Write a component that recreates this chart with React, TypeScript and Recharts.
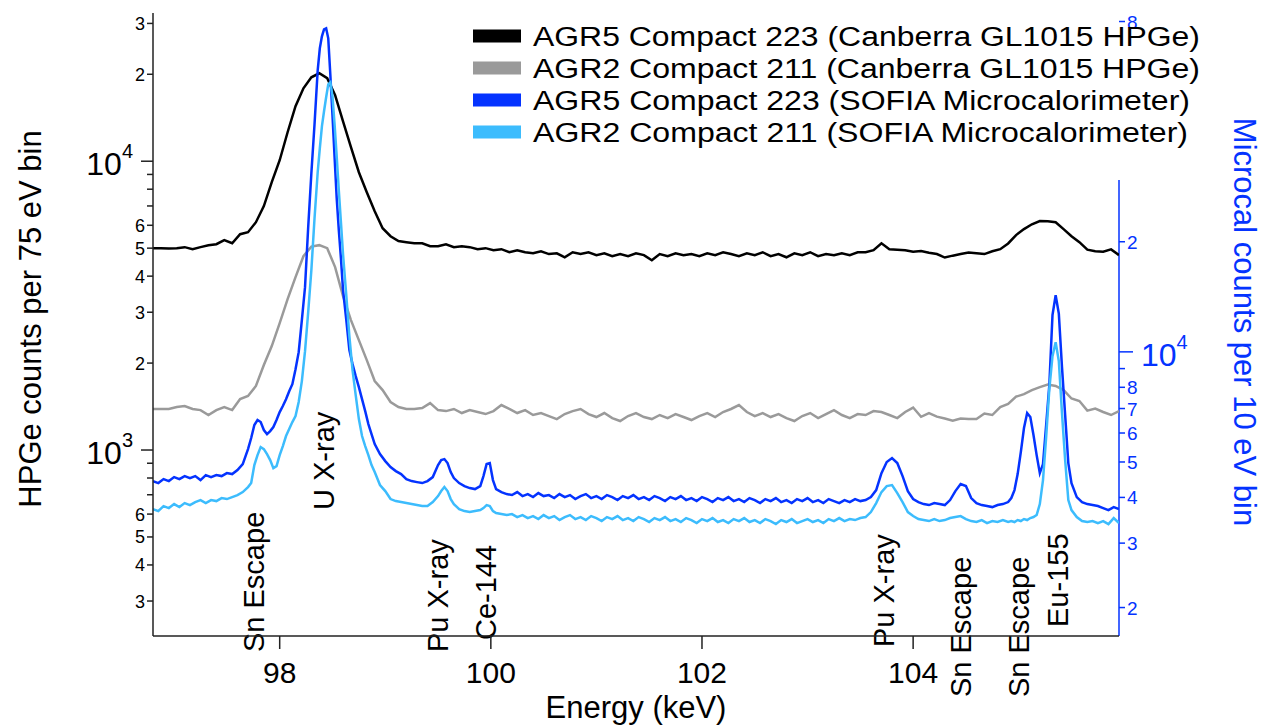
import React from "react";
import { LineChart, Line, XAxis, YAxis, ReferenceLine } from "recharts";

const FONT = '"Liberation Sans", Arial, Helvetica, sans-serif';
const BLACK = "#000000";
const GRAY = "#9a9a9a";
const BLUE = "#0433ff";
const SKY = "#3cbcfd";

// HPGe spectra, 75 eV bins (keV, counts)
const hpgeEnergy = [
  96.8, 96.875, 96.95, 97.025, 97.1, 97.175, 97.25, 97.325, 97.4, 97.475,
  97.55, 97.625, 97.7, 97.775, 97.85, 97.925, 98.0, 98.075, 98.15, 98.225,
  98.3, 98.375, 98.45, 98.525, 98.6, 98.675, 98.75, 98.825, 98.9, 98.975,
  99.05, 99.125, 99.2, 99.275, 99.35, 99.425, 99.5, 99.575, 99.65, 99.725,
  99.8, 99.875, 99.95, 100.025, 100.1, 100.175, 100.25, 100.325, 100.4, 100.475,
  100.55, 100.625, 100.7, 100.775, 100.85, 100.925, 101.0, 101.075, 101.15, 101.225,
  101.3, 101.375, 101.45, 101.525, 101.6, 101.675, 101.75, 101.825, 101.9, 101.975,
  102.05, 102.125, 102.2, 102.275, 102.35, 102.425, 102.5, 102.575, 102.65, 102.725,
  102.8, 102.875, 102.95, 103.025, 103.1, 103.175, 103.25, 103.325, 103.4, 103.475,
  103.55, 103.625, 103.7, 103.775, 103.85, 103.925, 104.0, 104.075, 104.15, 104.225,
  104.3, 104.375, 104.45, 104.525, 104.6, 104.675, 104.75, 104.825, 104.9, 104.975,
  105.05, 105.125, 105.2, 105.275, 105.35, 105.425, 105.5, 105.575, 105.65, 105.725,
  105.8, 105.875, 105.95,
];

const hpgeAgr5 = [
  5000, 5000, 4990, 5000, 5040, 4960, 5040, 5120, 5160, 5330,
  5200, 5590, 5680, 6150, 6990, 8460, 10080, 12600, 15500, 17890,
  19530, 20160, 19380, 16920, 13750, 11180, 9160, 7810, 6710, 5860,
  5500, 5290, 5245, 5200, 5200, 5080, 5080, 5160, 5040, 5080,
  5040, 4960, 5000, 4920, 4960, 4840, 4920, 4840, 4800, 4880,
  4770, 4800, 4650, 4840, 4770, 4840, 4730, 4800, 4690, 4770,
  4690, 4800, 4730, 4540, 4770, 4690, 4800, 4730, 4770, 4690,
  4800, 4730, 4840, 4770, 4690, 4800, 4730, 4840, 4690, 4770,
  4650, 4800, 4730, 4840, 4690, 4770, 4730, 4800, 4730, 4840,
  4840, 4920, 5200, 4960, 4940, 4920, 4860, 4890, 4820, 4770,
  4640, 4710, 4770, 4830, 4800, 4770, 4880, 4960, 5190, 5550,
  5820, 6050, 6210, 6200, 6150, 5820, 5500, 5245, 4940, 4880,
  4860, 4950, 4730,
];

const hpgeAgr2 = [
  1387, 1387, 1387, 1409, 1420, 1387, 1375, 1322, 1375, 1409,
  1375, 1502, 1538, 1666, 1969, 2290, 2750, 3331, 3968, 4690,
  5061, 5121, 5000, 4298, 3411, 2817, 2402, 2048, 1733, 1613,
  1466, 1409, 1387, 1387, 1398, 1454, 1375, 1364, 1387, 1343,
  1375, 1354, 1332, 1364, 1431, 1387, 1343, 1375, 1322, 1343,
  1311, 1280, 1332, 1364, 1387, 1332, 1301, 1343, 1290, 1260,
  1311, 1343, 1301, 1280, 1322, 1290, 1332, 1301, 1270, 1311,
  1343, 1301, 1354, 1387, 1431, 1354, 1311, 1343, 1301, 1332,
  1290, 1260, 1311, 1343, 1290, 1332, 1375, 1322, 1290, 1332,
  1322, 1364, 1354, 1322, 1290, 1354, 1403, 1303, 1343, 1305,
  1285, 1263, 1285, 1280, 1280, 1337, 1322, 1409, 1443, 1530,
  1562, 1613, 1652, 1685, 1666, 1613, 1508, 1478, 1369, 1392,
  1354, 1322, 1364,
];

// SOFIA microcalorimeter spectra (keV, counts per 10 eV bin), sampled
const microEnergy = [
  96.8, 96.85, 96.9, 96.95, 97.0, 97.05, 97.1, 97.15, 97.2, 97.25,
  97.3, 97.35, 97.4, 97.45, 97.5, 97.55, 97.6, 97.65, 97.7,
  97.73, 97.76, 97.79, 97.82, 97.85, 97.88, 97.91, 97.94, 97.97, 98.0,
  98.03, 98.06, 98.09, 98.12, 98.15, 98.18, 98.21, 98.24, 98.27, 98.3,
  98.33, 98.36,
  98.38, 98.4, 98.42, 98.44, 98.46, 98.48, 98.5, 98.52, 98.54, 98.56, 98.58, 98.6,
  98.63, 98.66, 98.69, 98.72, 98.75, 98.78, 98.81, 98.84, 98.87,
  98.9, 98.95, 99.0, 99.05, 99.1, 99.15, 99.2, 99.25, 99.3, 99.35, 99.4, 99.45, 99.5,
  99.53, 99.56, 99.59, 99.62, 99.65,
  99.7, 99.75, 99.8, 99.85, 99.9,
  99.93, 99.96, 99.99, 100.02, 100.05,
  100.1, 100.15, 100.2, 100.25, 100.3, 100.35, 100.4, 100.45, 100.5, 100.55,
  100.6, 100.65, 100.7, 100.75, 100.8, 100.85, 100.9, 100.95, 101.0, 101.05,
  101.1, 101.15, 101.2, 101.25, 101.3, 101.35, 101.4, 101.45, 101.5, 101.55,
  101.6, 101.65, 101.7, 101.75, 101.8, 101.85, 101.9, 101.95, 102.0, 102.05,
  102.1, 102.15, 102.2, 102.25, 102.3, 102.35, 102.4, 102.45, 102.5, 102.55,
  102.6, 102.65, 102.7, 102.75, 102.8, 102.85, 102.9, 102.95, 103.0, 103.05,
  103.1, 103.15, 103.2, 103.25, 103.3, 103.35, 103.4, 103.45, 103.5, 103.55,
  103.6, 103.65, 103.7, 103.75, 103.8, 103.85, 103.9, 103.95, 104.0, 104.05,
  104.1, 104.15, 104.2, 104.25, 104.3, 104.35, 104.4, 104.45, 104.5, 104.55,
  104.6, 104.65, 104.7, 104.75, 104.8, 104.85, 104.9,
  104.93, 104.96, 104.99, 105.02, 105.05, 105.08, 105.11, 105.14, 105.17, 105.2,
  105.23, 105.26, 105.29, 105.32, 105.35, 105.38, 105.41, 105.44, 105.47,
  105.5, 105.55, 105.6, 105.65, 105.7, 105.75, 105.8, 105.85, 105.9, 105.95,
];

const microAgr5 = [
  4433, 4378, 4489, 4433, 4546, 4489, 4575, 4518, 4575, 4461,
  4604, 4546, 4604, 4575, 4662, 4633, 4751, 4934, 5423,
  5813, 6308, 6510, 6428, 6113, 5961, 6074, 6229, 6510, 6846,
  7109, 7424, 7808, 8160, 8969, 9981, 12210, 15030, 21910, 30780,
  41900, 58850,
  67560, 72870, 76140, 76620, 71960, 57020, 44330, 34040, 26300, 21500, 18030, 14750,
  12280, 10110, 9256, 8583, 8009, 7424, 6889, 6348, 5961,
  5597, 5255, 5028, 4842, 4721, 4633, 4489, 4433, 4405, 4378, 4433, 4546, 4903,
  5060, 5092, 4965, 4692, 4518,
  4378, 4296, 4242, 4216, 4296,
  4575, 4934, 4965, 4461, 4216,
  4137, 4085, 4060, 4137, 4034, 4085, 4009, 4111, 4034, 4060,
  3984, 4085, 4009, 4060, 3959, 4034, 4085, 3984, 4034, 3959,
  4060, 4009, 3934, 4034, 3984, 4060, 3959, 4009, 3934, 4034,
  3984, 3909, 4009, 3959, 4034, 3934, 3984, 3909, 4009, 3959,
  3885, 3984, 3934, 4009, 3909, 3959, 3885, 3984, 3934, 3860,
  3959, 3909, 3984, 3885, 3934, 3860, 3959, 3909, 3984, 3885,
  3934, 3860, 3959, 3909, 3860, 3934, 3885, 3959, 3909, 3934,
  4009, 4189, 4662, 4997, 5124, 4965, 4575, 4163, 3959, 3885,
  3836, 3812, 3860, 3836, 3812, 3934, 4163, 4350, 4296, 3984,
  3860, 3812, 3788, 3764, 3812, 3836, 3885,
  3984, 4189, 4633, 5322, 6190, 6803, 6634, 5923, 5222, 4662,
  4934, 6308, 8110, 12600, 14280, 12720, 9080, 6718, 4965,
  4378, 4009, 3885, 3836, 3812, 3788, 3741, 3694, 3764, 3717,
];

const microAgr2 = [
  3717, 3671, 3788, 3741, 3836, 3764, 3860, 3812, 3885, 3934,
  3860, 3934, 3909, 3984, 3959, 4009, 4060, 4137, 4269,
  4378, 4903, 5222, 5492, 5423, 5255, 5060, 4811, 4872, 5222,
  5527, 5886, 6151, 6428, 6676, 7291, 8318, 10040, 12840, 16720,
  23190, 30970,
  36020, 41370, 45460, 49650, 53880, 54560, 49960, 41900, 34250, 27660, 22620, 18490,
  14380, 11040, 8913, 7614, 6551, 5886, 5527, 5222, 4903,
  4692, 4323, 4163, 3959, 3909, 3885, 3860, 3836, 3812, 3788, 3788, 3885, 4034,
  4163, 4269, 4163, 3959, 3836,
  3717, 3671, 3648, 3671, 3694,
  3741, 3812, 3788, 3671, 3625,
  3602, 3580, 3602, 3535, 3580, 3513, 3557, 3491, 3580, 3513,
  3557, 3469, 3535, 3580, 3491, 3535, 3469, 3557, 3513, 3447,
  3535, 3491, 3557, 3469, 3513, 3447, 3535, 3491, 3426, 3513,
  3469, 3535, 3447, 3491, 3426, 3513, 3469, 3404, 3491, 3447,
  3513, 3426, 3469, 3404, 3491, 3447, 3513, 3426, 3469, 3404,
  3491, 3447, 3383, 3469, 3426, 3491, 3404, 3447, 3491, 3426,
  3469, 3404, 3491, 3447, 3513, 3447, 3491, 3469, 3513, 3535,
  3648, 3860, 4137, 4296, 4323, 4111, 3885, 3648, 3557, 3491,
  3469, 3447, 3491, 3447, 3469, 3513, 3535, 3557, 3491, 3447,
  3426, 3469, 3404, 3447, 3426, 3469, 3426,
  3447, 3426, 3469, 3447, 3491, 3469, 3513, 3535, 3580, 3836,
  4461, 5849, 7908, 9733, 10630, 9431, 6803, 5060, 3934,
  3694, 3535, 3447, 3426, 3447, 3404, 3447, 3383, 3513, 3404,
];

const energyTicks = [98, 100, 102, 104];
const hpgeTicks = [300, 400, 500, 600, 700, 800, 900, 1000, 2000, 3000, 4000, 5000, 6000, 7000, 8000, 9000, 10000, 20000, 30000];
const microTicks = [2000, 3000, 4000, 5000, 6000, 7000, 8000, 9000, 10000, 20000, 80000];

const peakEnergy = [97.758, 98.416, 99.504, 99.95, 103.726, 104.456, 105.007, 105.374];
const peakName = ["Sn Escape", "U X-ray", "Pu X-ray", "Ce-144", "Pu X-ray", "Sn Escape", "Sn Escape", "Eu-155"];

const legendNames = [
  "AGR5 Compact 223 (Canberra GL1015 HPGe)",
  "AGR2 Compact 211 (Canberra GL1015 HPGe)",
  "AGR5 Compact 223 (SOFIA Microcalorimeter)",
  "AGR2 Compact 211 (SOFIA Microcalorimeter)",
];
const legendColors = [BLACK, GRAY, BLUE, SKY];
// the legend lettering in the original is wide; stretch to its measured widths
const legendWidths = [667, 667, 657, 655];

// layout: where the bottom of each rotated peak label sits (px)
const peakLabelBottom = [652, 510, 652, 640, 647, 697, 697, 627];

const hpgeData = hpgeEnergy.map((e, i) => ({ energy: e, agr5: hpgeAgr5[i], agr2: hpgeAgr2[i] }));
const microData = microEnergy.map((e, i) => ({ energy: e, agr5: microAgr5[i], agr2: microAgr2[i] }));

function splitTick(v: number) {
  const p = Math.floor(Math.log10(v) + 1e-9);
  const lead = Math.round(v / Math.pow(10, p));
  return { p, lead };
}

function EnergyTick(props: any) {
  const { x, y, payload } = props;
  return (
    <g>
      <line x1={x} x2={x} y1={y} y2={y + 13} stroke="#222" strokeWidth={1.5} />
      <text x={x} y={y + 47} textAnchor="middle" fontSize={30} fontFamily={FONT} fill="#000">
        {payload.value}
      </text>
    </g>
  );
}

function HpgeTick(props: any) {
  const { x, y, payload } = props;
  const { p, lead } = splitTick(payload.value);
  if (lead === 1) {
    return (
      <g>
        <line x1={x - 12} x2={x} y1={y} y2={y} stroke="#222" strokeWidth={1.5} />
        <text x={x - 20} y={y + 14} textAnchor="end" fontSize={32} fontFamily={FONT} fill="#000">
          10<tspan dy={-17} fontSize={20}>{p}</tspan>
        </text>
      </g>
    );
  }
  return (
    <g>
      <line x1={x - 6} x2={x} y1={y} y2={y} stroke="#222" strokeWidth={1.5} />
      {lead < 7 && (
        <text x={x - 8} y={y + 6.5} textAnchor="end" fontSize={18} fontFamily={FONT} fill="#000">
          {lead}
        </text>
      )}
    </g>
  );
}

function MicroTick(props: any) {
  const { x, y, payload } = props;
  const { p, lead } = splitTick(payload.value);
  if (lead === 1) {
    return (
      <g>
        <line x1={x} x2={x + 14} y1={y} y2={y} stroke={BLUE} strokeWidth={1.5} />
        <text x={x + 22} y={y + 14} fontSize={32} fontFamily={FONT} fill={BLUE}>
          10<tspan dy={-17} fontSize={20}>{p}</tspan>
        </text>
      </g>
    );
  }
  return (
    <g>
      <line x1={x} x2={x + 6} y1={y} y2={y} stroke={BLUE} strokeWidth={1.5} />
      {lead !== 9 && (
        <text x={x + 8} y={y + 7} fontSize={19} fontFamily={FONT} fill={BLUE}>
          {lead}
        </text>
      )}
    </g>
  );
}

function PeakLabel({ viewBox, text, bottom }: any) {
  if (!viewBox) return null;
  return (
    <text
      transform={`translate(${viewBox.x + 10}, ${bottom}) rotate(-90)`}
      fontSize={29}
      fontFamily={FONT}
      fill="#000"
      stroke="#fff"
      strokeWidth={6}
      strokeLinejoin="round"
      paintOrder="stroke"
    >
      {text}
    </text>
  );
}

export default function App() {
  return (
    <div style={{ position: "absolute", left: 0, top: 0, width: 1266, height: 727, background: "#fff" }}>
      <LineChart width={1266} height={727} margin={{ top: 13, right: 0, bottom: 0, left: 0 }}>
        <XAxis
          type="number"
          dataKey="energy"
          domain={[96.8, 105.95]}
          allowDataOverflow
          ticks={energyTicks}
          height={91}
          tickSize={0}
          tickMargin={0}
          tickLine={false}
          axisLine={{ stroke: "#222", strokeWidth: 1.5 }}
          tick={<EnergyTick />}
        />
        <YAxis
          yAxisId="left"
          scale="log"
          domain={[227, 32600]}
          allowDataOverflow
          ticks={hpgeTicks}
          width={153}
          tickSize={0}
          tickMargin={0}
          tickLine={false}
          axisLine={{ stroke: "#222", strokeWidth: 1.5 }}
          tick={<HpgeTick />}
          interval={0}
        />
        <YAxis
          yAxisId="right"
          orientation="right"
          scale="log"
          domain={[1672, 84400]}
          allowDataOverflow
          ticks={microTicks}
          width={147}
          tickSize={0}
          tickMargin={0}
          tickLine={false}
          axisLine={false}
          tick={<MicroTick />}
          interval={0}
        />
        <ReferenceLine
          yAxisId="right"
          segment={[{ x: 105.95, y: 1672 }, { x: 105.95, y: 29500 }]}
          stroke={BLUE}
          strokeWidth={1.5}
          ifOverflow="visible"
        />
        <Line data={hpgeData} dataKey="agr5" yAxisId="left" stroke={BLACK} strokeWidth={2.5} dot={false} isAnimationActive={false} />
        <Line data={hpgeData} dataKey="agr2" yAxisId="left" stroke={GRAY} strokeWidth={2.5} dot={false} isAnimationActive={false} />
        <Line data={microData} dataKey="agr5" yAxisId="right" stroke={BLUE} strokeWidth={2.5} dot={false} isAnimationActive={false} />
        <Line data={microData} dataKey="agr2" yAxisId="right" stroke={SKY} strokeWidth={2.5} dot={false} isAnimationActive={false} />
        {peakEnergy.map((e, i) => (
          <ReferenceLine
            key={`peak-${i}`}
            x={e}
            yAxisId="left"
            stroke="none"
            ifOverflow="visible"
            label={(p: any) => <PeakLabel viewBox={p.viewBox} text={peakName[i]} bottom={peakLabelBottom[i]} />}
          />
        ))}
      </LineChart>
      <svg width={1266} height={727} style={{ position: "absolute", left: 0, top: 0, pointerEvents: "none" }}>
        {legendNames.map((name, i) => (
          <g key={name}>
            <rect x={473} y={36 + i * 32 - 6.5} width={48} height={13} fill={legendColors[i]} />
            <text
              x={533}
              y={36 + i * 32 + 10}
              fontSize={27}
              fontFamily={FONT}
              fill="#000"
              textLength={legendWidths[i]}
              lengthAdjust="spacingAndGlyphs"
            >
              {name}
            </text>
          </g>
        ))}
        <text transform="translate(41, 319) rotate(-90)" textAnchor="middle" fontSize={31} fontFamily={FONT} fill="#000">
          HPGe counts per 75 eV bin
        </text>
        <text transform="translate(1234, 322) rotate(90)" textAnchor="middle" fontSize={31} fontFamily={FONT} fill={BLUE}>
          Microcal counts per 10 eV bin
        </text>
        <text x={636} y={718} textAnchor="middle" fontSize={31} fontFamily={FONT} fill="#000">
          Energy (keV)
        </text>
      </svg>
    </div>
  );
}
